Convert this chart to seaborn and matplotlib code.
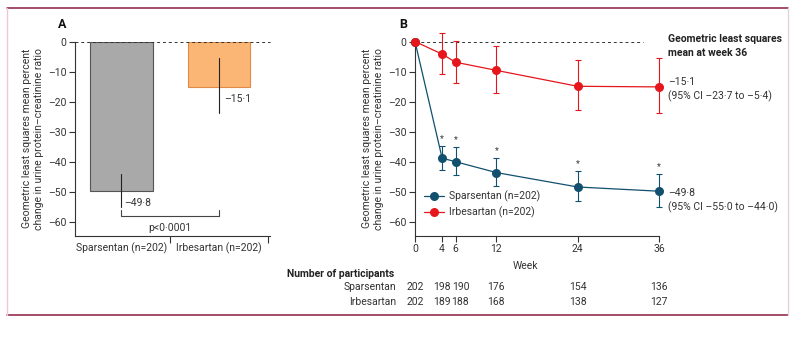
import numpy as np
import pandas as pd
import matplotlib
matplotlib.use("Agg")
import matplotlib.pyplot as plt
import seaborn as sns
from matplotlib.lines import Line2D
from matplotlib.transforms import blended_transform_factory

# ---- data -------------------------------------------------------------
arms = ["Sparsentan (n=202)", "Irbesartan (n=202)"]
arm_short = ["Sparsentan", "Irbesartan"]
week36_mean = [-49.8, -15.1]
week36_lo = [-55.0, -23.7]
week36_hi = [-44.0, -5.4]

weeks = [0, 4, 6, 12, 24, 36]
spars_mean = [0.0, -38.8, -40.0, -43.6, -48.4, -49.8]
spars_lo = [0.0, -42.9, -44.3, -48.2, -53.2, -55.0]
spars_hi = [0.0, -34.8, -35.2, -38.7, -43.1, -44.0]
irbe_mean = [0.0, -4.2, -6.9, -9.6, -14.9, -15.1]
irbe_lo = [0.0, -10.7, -13.7, -17.1, -22.9, -23.7]
irbe_hi = [0.0, 2.7, 0.2, -1.5, -6.0, -5.4]

n_spars = [202, 198, 190, 176, 154, 136]
n_irbe = [202, 189, 188, 168, 138, 127]

y_ticks = [0, -10, -20, -30, -40, -50, -60]
y_tick_labels = ["0", "–10", "–20", "–30", "–40", "–50", "–60"]

# ---- style ------------------------------------------------------------
sns.set_theme(style="white")
plt.rcParams["font.family"] = ["Roboto", "DejaVu Sans"]
FS = 7.5
INK = "#333333"
C_SPARS = "#11506f"
C_IRBE = "#e5161c"
C_GREY = "#a9a9a9"
C_ORANGE = "#fbb676"

W, H = 799, 339
fig = plt.figure(figsize=(W / 100, H / 100), dpi=100)


def fx(px):
    return px / W


def fy(py):
    return 1 - py / H


y_top_px, y_bot_px = 41.5, 236
YLIM = (-64.7, 0)
ax_b = fy(y_bot_px)
ax_h = (y_bot_px - y_top_px) / H

axA = fig.add_axes([fx(75), ax_b, fx(270) - fx(75), ax_h])
axB = fig.add_axes([fx(415), ax_b, fx(659) - fx(415), ax_h])

ylabel = "Geometric least squares mean percent\nchange in urine protein–creatinine ratio"

for ax in (axA, axB):
    ax.set_ylim(*YLIM)
    ax.set_yticks(y_ticks)
    ax.set_yticklabels(y_tick_labels, fontsize=FS, color=INK)
    for s in ("top", "right"):
        ax.spines[s].set_visible(False)
    for s in ("left", "bottom"):
        ax.spines[s].set_color(INK)
        ax.spines[s].set_linewidth(0.8)
    ax.tick_params(axis="both", which="both", direction="out", length=4,
                   width=0.8, color=INK, pad=2, left=True, bottom=True)
    ax.set_ylabel(ylabel, fontsize=FS, color=INK, labelpad=3, linespacing=1.25)
    ax.set_xlabel("")
    ax.patch.set_alpha(0)

# ---- panel A: bars ----------------------------------------------------
dfA = pd.DataFrame({"arm": arms, "mean": week36_mean})
sns.barplot(data=dfA, x="arm", y="mean", hue="arm", palette=[C_GREY, C_ORANGE],
            saturation=1, width=0.64, ax=axA, legend=False, errorbar=None)
for patch, ec in zip(axA.patches, ["#555555", "#e08a45"]):
    patch.set_edgecolor(ec)
    patch.set_linewidth(0.8)
axA.set_xlim(-0.474, 1.52)
axA.set_ylim(*YLIM)
axA.set_xlabel("")
axA.set_xticks([0, 1])
axA.set_xticklabels(arms, fontsize=FS, color=INK)
axA.tick_params(axis="x", which="major", length=0, pad=5)
axA.set_xticks([0.5, 1.5], minor=True)
axA.tick_params(axis="x", which="minor", length=5, width=0.8, color=INK)
axA.axhline(0, color=INK, lw=0.7, ls=(0, (3, 3)), clip_on=False)

for i in range(2):
    axA.plot([i, i], [week36_lo[i], week36_hi[i]], color="#222222", lw=0.8,
             clip_on=False, zorder=5)
axA.text(0.03, -53.7, "–49·8", fontsize=FS, color=INK, ha="left", va="center")
axA.text(1.05, -19.1, "–15·1", fontsize=FS, color=INK, ha="left", va="center")

# significance bracket
axA.plot([0, 0, 1, 1], [-56.2, -58.2, -58.2, -56.2], color="#444444", lw=0.8,
         clip_on=False)
axA.text(0.5, -62, "p<0·0001", fontsize=FS, color=INK, ha="center", va="center")

# ---- panel B: time course ---------------------------------------------
dfB = pd.DataFrame({
    "week": weeks * 2,
    "value": spars_mean + irbe_mean,
    "arm": [arms[0]] * len(weeks) + [arms[1]] * len(weeks),
})
sns.lineplot(data=dfB, x="week", y="value", hue="arm", palette=[C_SPARS, C_IRBE],
             marker="o", markersize=6.5, markeredgewidth=0, lw=0.9, ax=axB,
             legend=False, zorder=4, clip_on=False)

for mean, lo, hi, col in ((spars_mean, spars_lo, spars_hi, C_SPARS),
                          (irbe_mean, irbe_lo, irbe_hi, C_IRBE)):
    m = np.array(mean[1:])
    err = np.vstack([m - np.array(lo[1:]), np.array(hi[1:]) - m])
    axB.errorbar(weeks[1:], m, yerr=err, fmt="none", ecolor=col, elinewidth=0.8,
                 capsize=2, capthick=0.8, clip_on=False, zorder=3)

# significance markers above Sparsentan upper limits
for wk, hi in zip(weeks[1:], spars_hi[1:]):
    axB.text(wk, hi + 2.4, "*", fontsize=6.5, color=INK, ha="center", va="center")

axB.set_xlim(0, 36)
axB.set_ylim(*YLIM)
axB.set_xticks(weeks)
axB.set_xticklabels([str(w) for w in weeks], fontsize=FS, color=INK)
axB.set_xlabel("")
axB.plot([0, 33.6], [0, 0], color=INK, lw=0.7, ls=(0, (3, 3)), clip_on=False,
         zorder=1)

handles = [
    Line2D([], [], color=C_SPARS, marker="o", markersize=6.5, markeredgewidth=0,
           lw=0.9, label=arms[0]),
    Line2D([], [], color=C_IRBE, marker="o", markersize=6.5, markeredgewidth=0,
           lw=0.9, label=arms[1]),
]
axB.legend(handles=handles, loc="center left", bbox_to_anchor=(fx(424), fy(204.5)),
           bbox_transform=fig.transFigure, frameon=False, fontsize=FS,
           handlelength=1.9, handletextpad=0.5, labelspacing=0.4,
           borderpad=0, borderaxespad=0, labelcolor=INK)

# week-36 summary annotations
fig.text(fx(668), fy(39), "Geometric least squares", fontsize=FS, fontweight="bold",
         color="#222222", ha="left", va="center")
fig.text(fx(668), fy(53), "mean at week 36", fontsize=FS, fontweight="bold",
         color="#222222", ha="left", va="center")
fig.text(fx(668), fy(82), "–15·1", fontsize=FS, color=INK, ha="left", va="center")
fig.text(fx(668), fy(96), "(95% CI –23·7 to –5·4)", fontsize=FS, color=INK,
         ha="left", va="center")
fig.text(fx(668), fy(193), "–49·8", fontsize=FS, color=INK, ha="left", va="center")
fig.text(fx(668), fy(207), "(95% CI –55·0 to –44·0)", fontsize=FS, color=INK,
         ha="left", va="center")

# panel letters
fig.text(fx(58), fy(25), "A", fontsize=9, fontweight="bold", color="#111111",
         ha="left", va="center")
fig.text(fx(399), fy(25), "B", fontsize=9, fontweight="bold", color="#111111",
         ha="left", va="center")

# ---- number at risk table ---------------------------------------------
fig.text(fx(525), fy(266), "Week", fontsize=FS, color=INK, ha="center", va="center")
fig.text(fx(287), fy(274), "Number of participants", fontsize=FS, fontweight="bold",
         color="#222222", ha="left", va="center")
tr = blended_transform_factory(axB.transData, fig.transFigure)
for row_y, name, counts in ((287, arm_short[0], n_spars), (302, arm_short[1], n_irbe)):
    fig.text(fx(396), fy(row_y), name, fontsize=FS, color=INK, ha="right", va="center")
    for wk, c in zip(weeks, counts):
        dx = 0.7 if wk == 6 else 0.0
        axB.text(wk + dx, fy(row_y), str(c), transform=tr, fontsize=FS, color=INK,
                 ha="center", va="center")

# ---- frame --------------------------------------------------------------
fig.add_artist(Line2D([fx(7), fx(788)], [fy(8), fy(8)], color="#8a1c3c", lw=1.1))
fig.add_artist(Line2D([fx(7), fx(788)], [fy(315), fy(315)], color="#8a1c3c", lw=1.1))
fig.add_artist(Line2D([fx(7), fx(7)], [fy(8), fy(315)], color="#f2c6d4", lw=1.0))
fig.add_artist(Line2D([fx(788), fx(788)], [fy(8), fy(315)], color="#e3d3d9", lw=1.0))

fig.savefig("out.png", dpi=100)
